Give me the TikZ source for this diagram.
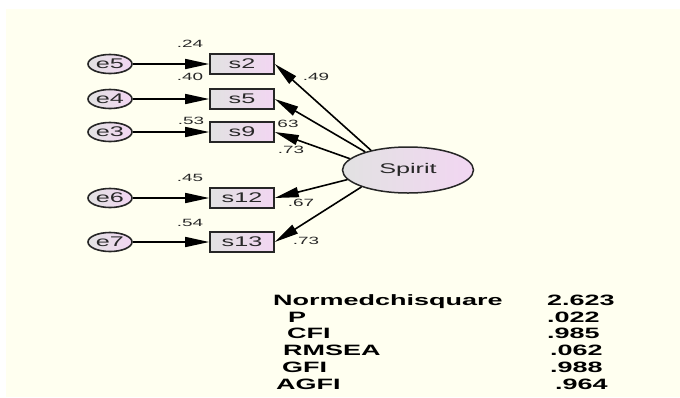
\documentclass[tikz,border=0pt]{standalone}
\usepackage{fontspec}
\setmainfont{Liberation Sans}
\usepackage{graphicx}
\usetikzlibrary{arrows.meta,shapes.geometric}
\definecolor{amosCream}{RGB}{255,255,240}
\definecolor{amosGray}{RGB}{226,226,226}
\definecolor{amosPink}{RGB}{242,214,242}
\definecolor{amosText}{RGB}{40,40,40}
\newcommand{\hx}[1]{\scalebox{1.8}[1]{#1}}

\begin{document}
\begin{tikzpicture}[x=1pt, y=-1pt,
    obs/.style={draw=black!85, line width=1.6pt, left color=amosGray, right color=amosPink, minimum width=64pt, minimum height=20pt, inner sep=0pt, font=\fontsize{14}{14}\selectfont, text=amosText},
    err/.style={ellipse, draw=black!85, line width=1.6pt, left color=amosGray, right color=amosPink, minimum width=44pt, minimum height=19pt, inner sep=0pt, font=\fontsize{14}{14}\selectfont, text=amosText},
    lat/.style={ellipse, draw=black!85, line width=1.5pt, left color=amosGray, right color=amosPink, minimum width=131pt, minimum height=46pt, inner sep=0pt, font=\fontsize{14}{14}\selectfont, text=amosText},
    arrow/.style={-{Triangle[length=24pt,width=10pt]}, line width=1.6pt, black},
    lbl/.style={font=\fontsize{10.5}{10.5}\selectfont, text=amosText, inner sep=0pt, text height=7.5pt, text depth=0pt},
    stat/.style={font=\fontsize{15}{15}\selectfont\bfseries, anchor=west, inner sep=0pt, text height=11pt, text depth=0pt}
  ]
    \fill[white] (0,0) rectangle (680,397);
    \fill[amosCream] (6,9) rectangle (680,397);
    \useasboundingbox (0,0) rectangle (680,397);

    % error terms
    \node[err] (e5) at (110,64) {\hx{e5}};
    \node[err] (e4) at (110,99) {\hx{e4}};
    \node[err] (e3) at (110,132) {\hx{e3}};
    \node[err] (e6) at (110,198) {\hx{e6}};
    \node[err] (e7) at (110,242) {\hx{e7}};

    % observed items
    \node[obs] (s2) at (242,64) {\hx{s2}};
    \node[obs] (s5) at (242,99) {\hx{s5}};
    \node[obs] (s9) at (242,132) {\hx{s9}};
    \node[obs] (s12) at (242,198) {\hx{s12}};
    \node[obs] (s13) at (242,242) {\hx{s13}};

    % latent factor
    \node[lat] (spirit) at (408,170) {\hx{Spirit}};

    \draw[arrow] (e5) -- (s2);
    \draw[arrow] (e4) -- (s5);
    \draw[arrow] (e3) -- (s9);
    \draw[arrow] (e6) -- (s12);
    \draw[arrow] (e7) -- (s13);

    \draw[arrow] (spirit.152) -- (s2.east);
    \draw[arrow] (spirit.157) -- (s5.east);
    \draw[arrow] (spirit.169) -- (s9.east);
    \draw[arrow] (spirit.189) -- (s12.east);
    \draw[arrow] (spirit.200) -- (s13.east);

    % squared multiple correlations
    \node[lbl] (r2) at (190,44) {\hx{.24}};
    \node[lbl] (r5) at (190,77) {\hx{.40}};
    \node[lbl] (r9) at (191,121) {\hx{.53}};
    \node[lbl] (r12) at (190,178) {\hx{.45}};
    \node[lbl] (r13) at (190,223) {\hx{.54}};

    % loadings
    \node[lbl] (w2) at (316,77) {\hx{.49}};
    \node[lbl] (w5) at (288,124) {\hx{63}};
    \node[lbl] (w9) at (291,150) {\hx{.73}};
    \node[lbl] (w12) at (301,203) {\hx{.67}};
    \node[lbl] (w13) at (306,241) {\hx{.73}};

    % fit indices
    \node[stat] (nchi) at (273,300) {\hx{Normedchisquare}};
    \node[stat] (vnchi) at (547,300) {\hx{2.623}};
    \node[stat] (p) at (288,317) {\hx{P}};
    \node[stat] (vp) at (547,317) {\hx{.022}};
    \node[stat] (cfi) at (287,333) {\hx{CFI}};
    \node[stat] (vcfi) at (547,333) {\hx{.985}};
    \node[stat] (rmsea) at (283,350) {\hx{RMSEA}};
    \node[stat] (vrmsea) at (550,350) {\hx{.062}};
    \node[stat] (gfi) at (282,367) {\hx{GFI}};
    \node[stat] (vgfi) at (550,367) {\hx{.988}};
    \node[stat] (agfi) at (276,384) {\hx{AGFI}};
    \node[stat] (vagfi) at (555,384) {\hx{.964}};
\end{tikzpicture}
\end{document}
